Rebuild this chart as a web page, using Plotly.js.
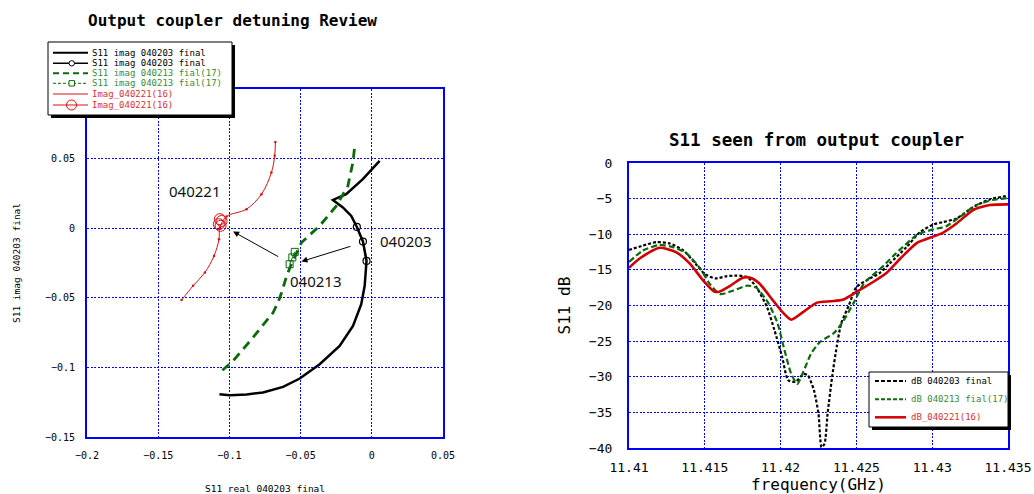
<!DOCTYPE html>
<html>
<head>
<meta charset="utf-8">
<script src="https://cdn.plot.ly/plotly-3.0.1.min.js"></script>
<style>html,body{margin:0;padding:0;background:#fff}#chart{width:1034px;height:494px}</style>
</head>
<body>
<div id="chart"></div>
<script>
// ---------- Left chart: S11 in complex plane ----------
const blackRe = [0.0055, -0.0063, -0.0180, -0.0273, -0.0203, -0.0144, -0.0105, -0.0062, -0.0037, -0.0042, -0.0050, -0.0074, -0.0132, -0.0226, -0.0366, -0.0506, -0.0623, -0.0764, -0.0880, -0.0997, -0.1070];
const blackIm = [0.0484, 0.0352, 0.0244, 0.0203, 0.0149, 0.0088, 0.0009, -0.0096, -0.0235, -0.0295, -0.0414, -0.0546, -0.0702, -0.0846, -0.0977, -0.1080, -0.1140, -0.1180, -0.1195, -0.1200, -0.1193];
const blackMkRe = [-0.0105, -0.0062, -0.0037];
const blackMkIm = [0.0009, -0.0096, -0.0235];
const greenRe = [-0.1049, -0.0974, -0.0834, -0.0693, -0.0659, -0.0635, -0.0600, -0.0570, -0.0494, -0.0366, -0.0249, -0.0168, -0.0133, -0.0121];
const greenIm = [-0.1020, -0.0953, -0.0785, -0.0606, -0.0534, -0.0467, -0.0350, -0.0270, -0.0103, 0.0017, 0.0160, 0.0304, 0.0472, 0.0580];
const greenMkRe = [-0.0577, -0.0558, -0.0541];
const greenMkIm = [-0.0259, -0.0210, -0.0170];
const redRe = [-0.1336, -0.1255, -0.1172, -0.1108, -0.1073, -0.1067, -0.1020, -0.0880, -0.0775, -0.0705, -0.0682, -0.0677];
const redIm = [-0.0515, -0.0414, -0.0318, -0.0199, -0.0079, 0.0005, 0.0084, 0.0137, 0.0244, 0.0400, 0.0520, 0.0620];
const redMkRe = [-0.1067, -0.1055, -0.1074, -0.1062];
const redMkIm = [0.0065, 0.0052, 0.0029, 0.0017];
const leftNames = ["S11 imag 040203 final", "S11 imag 040203 final", "S11 imag 040213 fial(17)", "S11 imag 040213 fial(17)", "Imag_040221(16)", "Imag_040221(16)"];
const pointLabels = ["040221", "040213", "040203"];
const pointLabelRe = [-0.1246, -0.0394, 0.0238];
const pointLabelIm = [0.0266, -0.0377, -0.0090];
const arrowHeadRe = [-0.0974, -0.0494];
const arrowHeadIm = [-0.0024, -0.0239];
const arrowTailRe = [-0.0647, -0.0139];
const arrowTailIm = [-0.0210, -0.0127];

// ---------- Right chart: S11 dB vs frequency ----------
const fBlack = [11.4100, 11.4109, 11.4118, 11.4127, 11.4136, 11.4145, 11.4150, 11.4157, 11.4164, 11.4171, 11.4178, 11.4184, 11.4191, 11.4196, 11.4201, 11.4205, 11.4210, 11.4215, 11.4218, 11.4222, 11.4225, 11.4227, 11.4229, 11.4231, 11.4234, 11.4237, 11.4240, 11.4245, 11.4250, 11.4259, 11.4265, 11.4272, 11.4283, 11.4292, 11.4301, 11.4307, 11.4316, 11.4327, 11.4338, 11.4350];
const dbBlack = [-12.2, -11.6, -11.1, -11.3, -12.3, -14.4, -15.6, -16.2, -15.9, -15.8, -16.0, -17.4, -20.2, -23.5, -27.2, -30.5, -30.7, -29.6, -29.8, -31.9, -35.2, -39.9, -39.4, -35.2, -30.0, -25.8, -22.5, -20.0, -17.4, -16.2, -15.5, -14.1, -11.8, -9.7, -8.6, -8.3, -7.8, -6.2, -5.1, -4.6];
const fGreen = [11.4100, 11.4109, 11.4120, 11.4129, 11.4138, 11.4147, 11.4153, 11.4160, 11.4169, 11.4178, 11.4184, 11.4192, 11.4198, 11.4202, 11.4207, 11.4211, 11.4215, 11.4220, 11.4226, 11.4235, 11.4241, 11.4248, 11.4255, 11.4268, 11.4276, 11.4290, 11.4301, 11.4309, 11.4318, 11.4329, 11.4340, 11.4350];
const dbGreen = [-13.9, -12.3, -11.5, -11.8, -12.7, -14.8, -16.9, -18.4, -17.9, -17.2, -17.5, -19.7, -22.5, -25.8, -29.6, -31.0, -29.3, -26.8, -25.1, -23.9, -22.3, -19.7, -16.9, -14.4, -12.7, -10.1, -9.3, -8.9, -7.6, -5.9, -5.2, -4.9];
const fRed = [11.4100, 11.4107, 11.4120, 11.4131, 11.4140, 11.4149, 11.4156, 11.4159, 11.4167, 11.4175, 11.4180, 11.4186, 11.4195, 11.4202, 11.4207, 11.4215, 11.4224, 11.4233, 11.4241, 11.4250, 11.4261, 11.4270, 11.4279, 11.4290, 11.4301, 11.4307, 11.4316, 11.4327, 11.4338, 11.4350];
const dbRed = [-14.7, -13.4, -11.9, -12.5, -14.1, -16.5, -18.0, -18.1, -17.2, -16.1, -16.1, -16.9, -19.3, -21.1, -22.0, -20.9, -19.6, -19.4, -19.2, -18.1, -16.7, -15.4, -13.4, -11.2, -10.3, -9.8, -8.5, -6.6, -5.9, -5.8];
const rightNames = ["dB 040203 final", "dB 040213 fial(17)", "dB_040221(16)"];

const titles = ["Output coupler detuning Review", "S11 seen from output coupler"];

// ---------- styling ----------
const W = 1034, H = 494;
const px = x => x / W;
const py = y => 1 - y / H;
const BLACK = "#000000", GREEN = "#0b6b0b", RED = "#e01010", RED2 = "#d40000";
const GREENTXT = "#3a8a3a", REDTXT = "#e03030";
const MONO = "DejaVu Sans Mono";
const BLUE = "#0000ff";

const traces = [
  {x: blackRe, y: blackIm, mode: "lines", line: {color: BLACK, width: 2.5}, name: leftNames[0], xaxis: "x", yaxis: "y"},
  {x: blackMkRe, y: blackMkIm, mode: "lines+markers", line: {color: BLACK, width: 1.5}, marker: {symbol: "circle-open", size: 7, color: BLACK, line: {width: 1.2}}, name: leftNames[1], xaxis: "x", yaxis: "y"},
  {x: greenRe, y: greenIm, mode: "lines", line: {color: GREEN, width: 2.8, dash: "9px,6px"}, name: leftNames[2], xaxis: "x", yaxis: "y"},
  {x: greenMkRe, y: greenMkIm, mode: "lines+markers", line: {color: GREEN, width: 1}, marker: {symbol: "square-open", size: 7, color: GREEN, line: {width: 1}}, name: leftNames[3], xaxis: "x", yaxis: "y"},
  {x: redRe, y: redIm, mode: "lines+markers", line: {color: RED, width: 1, shape: "spline"}, marker: {size: 2.5, color: RED}, name: leftNames[4], xaxis: "x", yaxis: "y"},
  {x: redMkRe, y: redMkIm, mode: "markers", marker: {symbol: "circle-open", size: 11, color: RED, line: {width: 1}}, name: leftNames[5], xaxis: "x", yaxis: "y"},
  {x: fBlack, y: dbBlack, mode: "lines", line: {color: BLACK, width: 2.2, dash: "3px,2px", shape: "spline", smoothing: 0.6}, name: rightNames[0], xaxis: "x2", yaxis: "y2"},
  {x: fGreen, y: dbGreen, mode: "lines", line: {color: GREEN, width: 2.2, dash: "6px,3px", shape: "spline", smoothing: 0.6}, name: rightNames[1], xaxis: "x2", yaxis: "y2"},
  {x: fRed, y: dbRed, mode: "lines", line: {color: RED2, width: 2.6, shape: "spline", smoothing: 0.6}, name: rightNames[2], xaxis: "x2", yaxis: "y2"}
];

const axisCommon = {
  showgrid: true, gridcolor: BLUE, griddash: "2px,1.5px", gridwidth: 1,
  showline: true, linecolor: BLUE, linewidth: 2, mirror: true,
  zeroline: false, ticks: "", fixedrange: true
};

const shapes = [];
const annotations = [];

// custom legend builder (box with shadow, sample lines, text)
function addLegend(box, rowsY, sampleX0, sampleX1, textX, styles, names, colors, fontSize) {
  shapes.push({type: "rect", xref: "paper", yref: "paper", x0: px(box.x0 + 3), x1: px(box.x1 + 3), y0: py(box.y1 + 3), y1: py(box.y0 + 3), fillcolor: BLACK, line: {width: 0}, layer: "above"});
  shapes.push({type: "rect", xref: "paper", yref: "paper", x0: px(box.x0), x1: px(box.x1), y0: py(box.y1), y1: py(box.y0), fillcolor: "#ffffff", line: {color: BLACK, width: 1}, layer: "above"});
  for (let i = 0; i < rowsY.length; i++) {
    shapes.push({type: "line", xref: "paper", yref: "paper", x0: px(sampleX0), x1: px(sampleX1), y0: py(rowsY[i]), y1: py(rowsY[i]), line: styles[i], layer: "above"});
    annotations.push({xref: "paper", yref: "paper", x: px(textX), y: py(rowsY[i]), xanchor: "left", yanchor: "middle", showarrow: false, text: names[i], font: {family: MONO, size: fontSize, color: colors[i]}});
  }
}

// left legend
const rowY = [52.7, 63.3, 73.3, 83.3, 94, 105];
addLegend({x0: 48, x1: 232, y0: 42, y1: 115}, rowY, 53, 88, 90,
  [
    {color: BLACK, width: 2, dash: "solid"},
    {color: BLACK, width: 1.5, dash: "solid"},
    {color: GREEN, width: 2, dash: "6px,4px"},
    {color: GREEN, width: 1, dash: "3px,2px"},
    {color: RED, width: 1, dash: "solid"},
    {color: RED, width: 1, dash: "solid"}
  ],
  leftNames, [BLACK, BLACK, GREENTXT, GREENTXT, REDTXT, REDTXT], 9);
shapes.push({type: "circle", xref: "paper", yref: "paper", x0: px(69), x1: px(74.5), y0: py(rowY[1] + 2.7), y1: py(rowY[1] - 2.7), fillcolor: "#ffffff", line: {color: BLACK, width: 1}, layer: "above"});
shapes.push({type: "rect", xref: "paper", yref: "paper", x0: px(69), x1: px(74.5), y0: py(rowY[3] + 2.7), y1: py(rowY[3] - 2.7), fillcolor: "#ffffff", line: {color: GREEN, width: 1}, layer: "above"});
shapes.push({type: "circle", xref: "paper", yref: "paper", x0: px(66.5), x1: px(76.5), y0: py(rowY[5] + 5), y1: py(rowY[5] - 5), fillcolor: "rgba(0,0,0,0)", line: {color: RED, width: 1}, layer: "above"});

// right legend
addLegend({x0: 869, x1: 1008, y0: 372, y1: 427}, [381, 399.3, 417.3], 875, 906, 909,
  [
    {color: BLACK, width: 2, dash: "4px,2px"},
    {color: GREEN, width: 2, dash: "4px,2px"},
    {color: RED2, width: 2.5, dash: "solid"}
  ],
  rightNames, [BLACK, GREENTXT, REDTXT], 9);

// titles
annotations.push({xref: "paper", yref: "paper", x: px(232), y: py(20), xanchor: "center", yanchor: "middle", showarrow: false, text: titles[0], font: {family: MONO, size: 16, color: BLACK, weight: "bold"}});
annotations.push({xref: "paper", yref: "paper", x: px(816), y: py(140), xanchor: "center", yanchor: "middle", showarrow: false, text: titles[1], font: {family: MONO, size: 17.5, color: BLACK, weight: "bold"}});

// point labels and arrows on left chart
for (let i = 0; i < pointLabels.length; i++) {
  annotations.push({xref: "x", yref: "y", x: pointLabelRe[i], y: pointLabelIm[i], showarrow: false, text: pointLabels[i], font: {family: "Noto Sans", size: 15, color: "#111111"}});
}
for (let i = 0; i < arrowHeadRe.length; i++) {
  annotations.push({xref: "x", yref: "y", axref: "x", ayref: "y", x: arrowHeadRe[i], y: arrowHeadIm[i], ax: arrowTailRe[i], ay: arrowTailIm[i], text: "", showarrow: true, arrowhead: 2, arrowsize: 1.2, arrowwidth: 1, arrowcolor: BLACK});
}

const layout = {
  width: W, height: H,
  margin: {l: 0, r: 0, t: 0, b: 0},
  paper_bgcolor: "#ffffff", plot_bgcolor: "#ffffff",
  font: {family: MONO, color: BLACK},
  showlegend: false,
  xaxis: Object.assign({}, axisCommon, {
    domain: [px(87), px(443)], range: [-0.2, 0.05], dtick: 0.05, tick0: -0.2, anchor: "y",
    tickfont: {family: MONO, size: 10}, ticklabelstandoff: 8,
    title: {text: "S11 real 040203 final", font: {family: MONO, size: 9.5}, standoff: 26}
  }),
  yaxis: Object.assign({}, axisCommon, {
    domain: [py(437), py(89)], range: [-0.15, 0.1], dtick: 0.05, tick0: -0.15, anchor: "x",
    tickfont: {family: MONO, size: 10}, ticklabelstandoff: 8,
    title: {text: "S11 imag 040203 final", font: {family: MONO, size: 9.5}, standoff: 23}
  }),
  xaxis2: Object.assign({}, axisCommon, {
    domain: [px(629), px(1008)], range: [11.41, 11.435], dtick: 0.005, tick0: 11.41, anchor: "y2",
    tickfont: {family: MONO, size: 13}, ticklabelstandoff: 6,
    title: {text: "frequency(GHz)", font: {family: MONO, size: 16}, standoff: 4}
  }),
  yaxis2: Object.assign({}, axisCommon, {
    domain: [py(448), py(163)], range: [-40, 0], dtick: 5, tick0: -40, anchor: "x2",
    tickfont: {family: MONO, size: 13}, ticklabelstandoff: 12,
    title: {text: "S11 dB", font: {family: MONO, size: 16}, standoff: 14}
  }),
  shapes: shapes,
  annotations: annotations
};

Plotly.newPlot("chart", traces, layout, {displayModeBar: false, staticPlot: true});
</script>
</body>
</html>
